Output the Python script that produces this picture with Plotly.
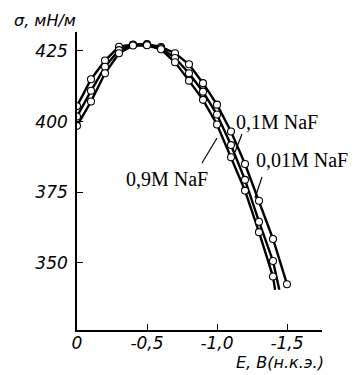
import plotly.graph_objects as go

# Electrode potential E, V (n.c.e.)
E_001 = [0, -0.1, -0.2, -0.3, -0.4, -0.5, -0.6, -0.7, -0.8, -0.9, -1.0, -1.1, -1.2, -1.3, -1.4, -1.5]
E_01 = [0, -0.1, -0.2, -0.3, -0.4, -0.5, -0.6, -0.7, -0.8, -0.9, -1.0, -1.1, -1.2, -1.3, -1.4, -1.445]
E_09 = [0, -0.1, -0.2, -0.3, -0.4, -0.5, -0.6, -0.7, -0.8, -0.9, -1.0, -1.1, -1.2, -1.3, -1.4, -1.415]

# Surface tension sigma, mN/m
sigma_001 = [405.5, 415.0, 421.6, 426.5, 427.3, 427.4, 426.4, 424.2, 420.3, 413.6, 406.0, 396.5, 385.0, 372.0, 358.5, 342.5]
sigma_01 = [401.8, 410.9, 419.4, 425.3, 427.1, 427.2, 426.0, 422.5, 417.1, 410.6, 402.5, 391.7, 379.4, 364.6, 350.7, 340.5]
sigma_09 = [398.5, 407.1, 417.1, 424.2, 426.9, 427.0, 425.6, 421.0, 414.5, 407.7, 399.0, 387.4, 375.6, 360.9, 345.2, 340.5]

series_names = ["0,01M NaF", "0,1M NaF", "0,9M NaF"]
x_tickvals = [0, -0.5, -1.0, -1.5]
x_ticktext = ["0", "-0,5", "-1,0", "-1,5"]
y_tickvals = [350, 375, 400, 425]
y_ticktext = ["350", "375", "400", "425"]

series = [(E_001, sigma_001, False), (E_01, sigma_01, True), (E_09, sigma_09, True)]

fig = go.Figure()
# lines first
for (ex, sy, _), name in zip(series, series_names):
    fig.add_trace(go.Scatter(x=ex, y=sy, mode="lines", name=name,
                             line=dict(color="black", width=2.4), showlegend=False,
                             hoverinfo="skip"))
# markers on top
for (ex, sy, drop_last), name in zip(series, series_names):
    sizes = [7] * len(ex)
    if drop_last:
        sizes[-1] = 0
    fig.add_trace(go.Scatter(x=ex, y=sy, mode="markers", name=name, showlegend=False,
                             marker=dict(symbol="circle", size=sizes, color="white",
                                         opacity=1,
                                         line=dict(color="black", width=1.1))))

L, R, T, B = 77, 32, 32, 45
W, H = 354, 375
pw, ph = W - L - R, H - T - B

def px(x):
    return (x - L) / pw

def py(y):
    return (H - B - y) / ph

tick_font = dict(family="DejaVu Sans", size=17, color="black", style="italic")
title_font = dict(family="DejaVu Sans", size=16, color="black", style="italic")
lab_font = dict(family="Liberation Serif", size=20, color="black")

fig.update_layout(
    width=W, height=H,
    margin=dict(l=L, r=R, t=T, b=B),
    paper_bgcolor="white", plot_bgcolor="white",
    xaxis=dict(range=[0, -1.75], showgrid=False, zeroline=False, showline=True,
               linecolor="black", linewidth=1.6, ticks="inside", ticklen=6,
               tickwidth=1.4, tickcolor="black", tickvals=x_tickvals,
               ticktext=x_ticktext, tickfont=tick_font, ticklabelstandoff=-3),
    yaxis=dict(range=[326.3, 431.7], showgrid=False, zeroline=False, showline=True,
               linecolor="black", linewidth=1.6, ticks="inside", ticklen=6,
               tickwidth=1.4, tickcolor="black", tickvals=y_tickvals,
               ticktext=y_ticktext, tickfont=tick_font, ticklabelstandoff=4),
)

annotations = [
    dict(text="σ, мН/м", x=px(12), y=py(20), xanchor="left", yanchor="middle", font=title_font),
    dict(text="E, В(н.к.э.)", x=px(326), y=py(363), xanchor="right", yanchor="middle", font=title_font),
    dict(text=series_names[2], x=px(124), y=py(179), xanchor="left", yanchor="middle", font=lab_font),
    dict(text=series_names[1], x=px(234), y=py(122), xanchor="left", yanchor="middle", font=lab_font),
    dict(text=series_names[0], x=px(254), y=py(160), xanchor="left", yanchor="middle", font=lab_font),
]
for a in annotations:
    a.update(xref="paper", yref="paper", showarrow=False)
fig.update_layout(annotations=annotations)

leaders = [((202, 163), (217, 138)), ((235, 152), (242, 134)), ((255, 198), (262, 177))]
for (x0, y0), (x1, y1) in leaders:
    fig.add_shape(type="line", xref="paper", yref="paper",
                  x0=px(x0), y0=py(y0), x1=px(x1), y1=py(y1),
                  line=dict(color="black", width=1.2))

fig.write_html("out.html", config={"displayModeBar": False},
               post_script="document.body.style.margin='0';document.body.style.overflow='hidden';")
